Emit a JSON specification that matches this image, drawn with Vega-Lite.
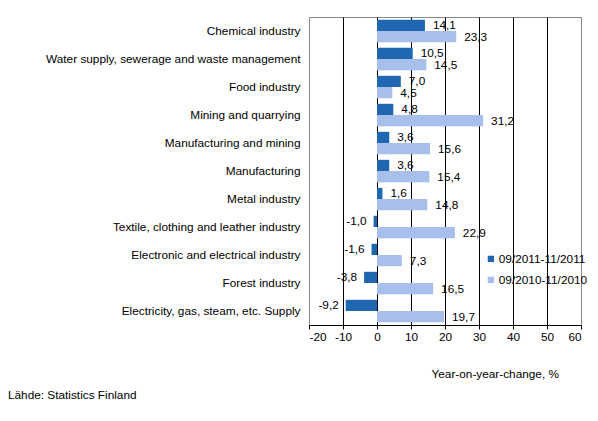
{
  "$schema": "https://vega.github.io/schema/vega-lite/v6.json",
  "autosize": "none",
  "padding": {"left": 309, "top": 17, "right": 17, "bottom": 96},
  "width": 272,
  "height": 308,
  "title": {
    "text": "Lähde: Statistics Finland",
    "orient": "bottom",
    "anchor": "start",
    "frame": "group",
    "dx": -301,
    "offset": 10,
    "fontSize": 11.8,
    "fontWeight": "normal",
    "font": "Liberation Sans",
    "color": "black"
  },
  "data": {
    "values": [
      {"industry": "Chemical industry", "period": "09/2011-11/2011", "change": 14.1},
      {"industry": "Chemical industry", "period": "09/2010-11/2010", "change": 23.3},
      {"industry": "Water supply, sewerage and waste management", "period": "09/2011-11/2011", "change": 10.5},
      {"industry": "Water supply, sewerage and waste management", "period": "09/2010-11/2010", "change": 14.5},
      {"industry": "Food industry", "period": "09/2011-11/2011", "change": 7.0},
      {"industry": "Food industry", "period": "09/2010-11/2010", "change": 4.5},
      {"industry": "Mining and quarrying", "period": "09/2011-11/2011", "change": 4.8},
      {"industry": "Mining and quarrying", "period": "09/2010-11/2010", "change": 31.2},
      {"industry": "Manufacturing and mining", "period": "09/2011-11/2011", "change": 3.6},
      {"industry": "Manufacturing and mining", "period": "09/2010-11/2010", "change": 15.6},
      {"industry": "Manufacturing", "period": "09/2011-11/2011", "change": 3.6},
      {"industry": "Manufacturing", "period": "09/2010-11/2010", "change": 15.4},
      {"industry": "Metal industry", "period": "09/2011-11/2011", "change": 1.6},
      {"industry": "Metal industry", "period": "09/2010-11/2010", "change": 14.8},
      {"industry": "Textile, clothing and leather industry", "period": "09/2011-11/2011", "change": -1.0},
      {"industry": "Textile, clothing and leather industry", "period": "09/2010-11/2010", "change": 22.9},
      {"industry": "Electronic and electrical industry", "period": "09/2011-11/2011", "change": -1.6},
      {"industry": "Electronic and electrical industry", "period": "09/2010-11/2010", "change": 7.3},
      {"industry": "Forest industry", "period": "09/2011-11/2011", "change": -3.8},
      {"industry": "Forest industry", "period": "09/2010-11/2010", "change": 16.5},
      {"industry": "Electricity, gas, steam, etc. Supply", "period": "09/2011-11/2011", "change": -9.2},
      {"industry": "Electricity, gas, steam, etc. Supply", "period": "09/2010-11/2010", "change": 19.7}
    ]
  },
  "encoding": {
    "y": {
      "field": "industry",
      "type": "nominal",
      "sort": null,
      "title": null,
      "scale": {"paddingInner": 0.2, "paddingOuter": 0.1},
      "axis": {"domain": false, "ticks": false, "labelPadding": 9, "labelLimit": 400, "labelFontSize": 11.8, "labelColor": "black"}
    },
    "yOffset": {"field": "period", "type": "nominal", "sort": ["09/2011-11/2011", "09/2010-11/2010"]},
    "x": {
      "field": "change",
      "type": "quantitative",
      "scale": {"domain": [-20, 60], "nice": false},
      "axis": {
        "values": [-20, -10, 0, 10, 20, 30, 40, 50, 60],
        "grid": true,
        "gridColor": {"condition": {"test": "datum.value === -20 || datum.value === 60", "value": "#888888"}, "value": "black"},
        "gridOpacity": 1,
        "domainColor": "black",
        "tickColor": "black",
        "tickSize": 4,
        "labelFontSize": 11.8,
        "labelColor": "black",
        "labelPadding": 2,
        "title": "Year-on-year-change, %",
        "titleX": 122,
        "titleY": 48,
        "titleAlign": "left",
        "titleBaseline": "middle",
        "titleFontWeight": "normal",
        "titleFontSize": 11.8,
        "titleColor": "black"
      }
    }
  },
  "layer": [
    {
      "mark": {"type": "bar"},
      "encoding": {
        "color": {
          "field": "period",
          "type": "nominal",
          "scale": {"domain": ["09/2011-11/2011", "09/2010-11/2010"], "range": ["#1f67b1", "#a8bfeb"]},
          "legend": {
            "title": null,
            "orient": "none",
            "legendX": 176,
            "legendY": 236,
            "symbolType": "square",
            "symbolSize": 40,
            "symbolStrokeWidth": 0,
            "labelFontSize": 11.8,
            "labelColor": "black",
            "labelOffset": 2,
            "rowPadding": 8
          }
        }
      }
    },
    {
      "transform": [{"filter": "datum.change >= 0"}],
      "mark": {"type": "text", "align": "left", "baseline": "middle", "dx": 8, "fontSize": 11.8, "color": "black"},
      "encoding": {"text": {"field": "change", "type": "quantitative", "format": ".1f"}}
    },
    {
      "transform": [{"filter": "datum.change < 0"}],
      "mark": {"type": "text", "align": "right", "baseline": "middle", "dx": -7, "fontSize": 11.8, "color": "black"},
      "encoding": {"text": {"field": "change", "type": "quantitative", "format": ".1f"}}
    }
  ],
  "config": {
    "font": "Liberation Sans",
    "view": {"stroke": "#888888"},
    "locale": {"number": {"decimal": ",", "thousands": " ", "grouping": [3], "currency": ["", " €"], "minus": "-"}}
  }
}
